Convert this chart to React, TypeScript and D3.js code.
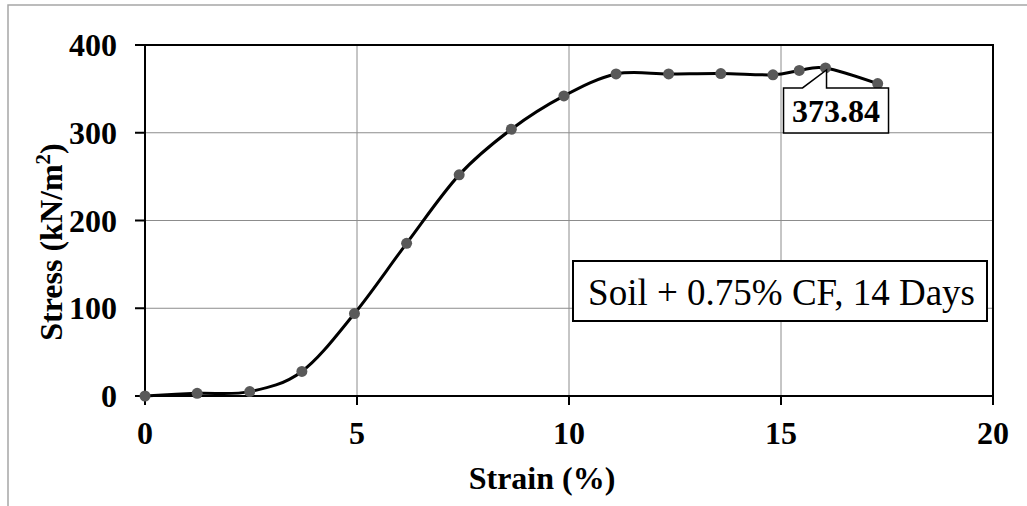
import React from 'react';
import * as d3 from 'd3';

// strain (%) and stress (kN/m2)
const strain = [0, 1.23, 2.47, 3.70, 4.94, 6.17, 7.41, 8.64, 9.88, 11.11, 12.35, 13.58, 14.81, 15.43, 16.05, 17.28];
const stress = [0, 3, 5, 28, 94, 174, 252, 304, 342, 367, 367, 367.5, 366, 371, 373.84, 356];
const xTicks = [0, 5, 10, 15, 20];
const yTicks = [0, 100, 200, 300, 400];
const peakLabel = "373.84";
const legendText = "Soil + 0.75% CF, 14 Days";

const W = 1027;
const H = 506;
const margin = { top: 45, right: 34, bottom: 110, left: 145 };
const font = "'Liberation Serif', 'Times New Roman', serif";

export default function App() {
    const x = d3.scaleLinear().domain([0, 20]).range([margin.left, W - margin.right]);
    const y = d3.scaleLinear().domain([0, 400]).range([H - margin.bottom, margin.top]);

    const pts = strain.map((s, i) => ({ s, v: stress[i] }));
    const line = d3.line<{ s: number; v: number }>()
        .x(d => x(d.s))
        .y(d => y(d.v))
        .curve(d3.curveCardinal.tension(0));

    // callout for the peak value
    const peakIdx = stress.indexOf(d3.max(stress)!);
    const px = x(strain[peakIdx]);
    const py = y(stress[peakIdx]);
    const bx0 = px - 42, bx1 = px + 63, by0 = py + 20, by1 = py + 65;
    const callout = `M${px - 23},${by0} L${bx0},${by0} L${bx0},${by1} L${bx1},${by1} L${bx1},${by0} L${px + 1},${by0} L${px + 1},${py + 2} Z`;

    const [x0, x1] = x.range();
    const [y0, y1] = y.range();

    return (
        <svg width={W} height={H} style={{ position: 'absolute', left: 0, top: 0, display: 'block', background: '#fff' }}>
            {/* outer frame */}
            <rect x={8} y={5} width={W + 10} height={H + 10} fill="#fff" stroke="#a6a6a6" strokeWidth={1.5} />

            {/* grid */}
            {xTicks.slice(1, -1).map(t => (
                <line key={'gx' + t} x1={x(t)} x2={x(t)} y1={y1} y2={y0} stroke="#8c8c8c" strokeWidth={1} />
            ))}
            {yTicks.slice(1, -1).map(t => (
                <line key={'gy' + t} x1={x0} x2={x1} y1={y(t)} y2={y(t)} stroke="#8c8c8c" strokeWidth={1} />
            ))}

            {/* plot frame */}
            <rect x={x0} y={y1} width={x1 - x0} height={y0 - y1} fill="none" stroke="#000" strokeWidth={2} />

            {/* ticks */}
            {yTicks.map(t => (
                <g key={'ty' + t}>
                    <line x1={x0 - 10} x2={x0} y1={y(t)} y2={y(t)} stroke="#000" strokeWidth={2} />
                    <text x={x0 - 28} y={y(t)} dy="0.35em" textAnchor="end" fontFamily={font} fontWeight="bold" fontSize={32}>{t}</text>
                </g>
            ))}
            {xTicks.map(t => (
                <g key={'tx' + t}>
                    <line x1={x(t)} x2={x(t)} y1={y0} y2={y0 + 9} stroke="#000" strokeWidth={2} />
                    <text x={x(t)} y={y0 + 48} textAnchor="middle" fontFamily={font} fontWeight="bold" fontSize={32}>{t}</text>
                </g>
            ))}

            {/* axis titles */}
            <text x={542} y={489} textAnchor="middle" fontFamily={font} fontWeight="bold" fontSize={32}>Strain (%)</text>
            <text transform="translate(62, 242) rotate(-90)" textAnchor="middle" fontFamily={font} fontWeight="bold" fontSize={32}>
                Stress (kN/m<tspan baselineShift="super" fontSize={21}>2</tspan>)
            </text>

            {/* series */}
            <path d={line(pts) ?? ''} fill="none" stroke="#000" strokeWidth={3} />
            {pts.map((d, i) => (
                <circle key={i} cx={x(d.s)} cy={y(d.v)} r={5.5} fill="#595959" />
            ))}

            {/* peak callout */}
            <path d={callout} fill="#fff" stroke="#000" strokeWidth={1.5} />
            <text x={(bx0 + bx1) / 2} y={by1 - 11} textAnchor="middle" fontFamily={font} fontWeight="bold" fontSize={32}>{peakLabel}</text>

            {/* legend box */}
            <rect x={573} y={261} width={414} height={60} fill="#fff" stroke="#000" strokeWidth={2} />
            <text x={975} y={305} textAnchor="end" fontFamily={font} fontSize={37}>{legendText}</text>
        </svg>
    );
}
